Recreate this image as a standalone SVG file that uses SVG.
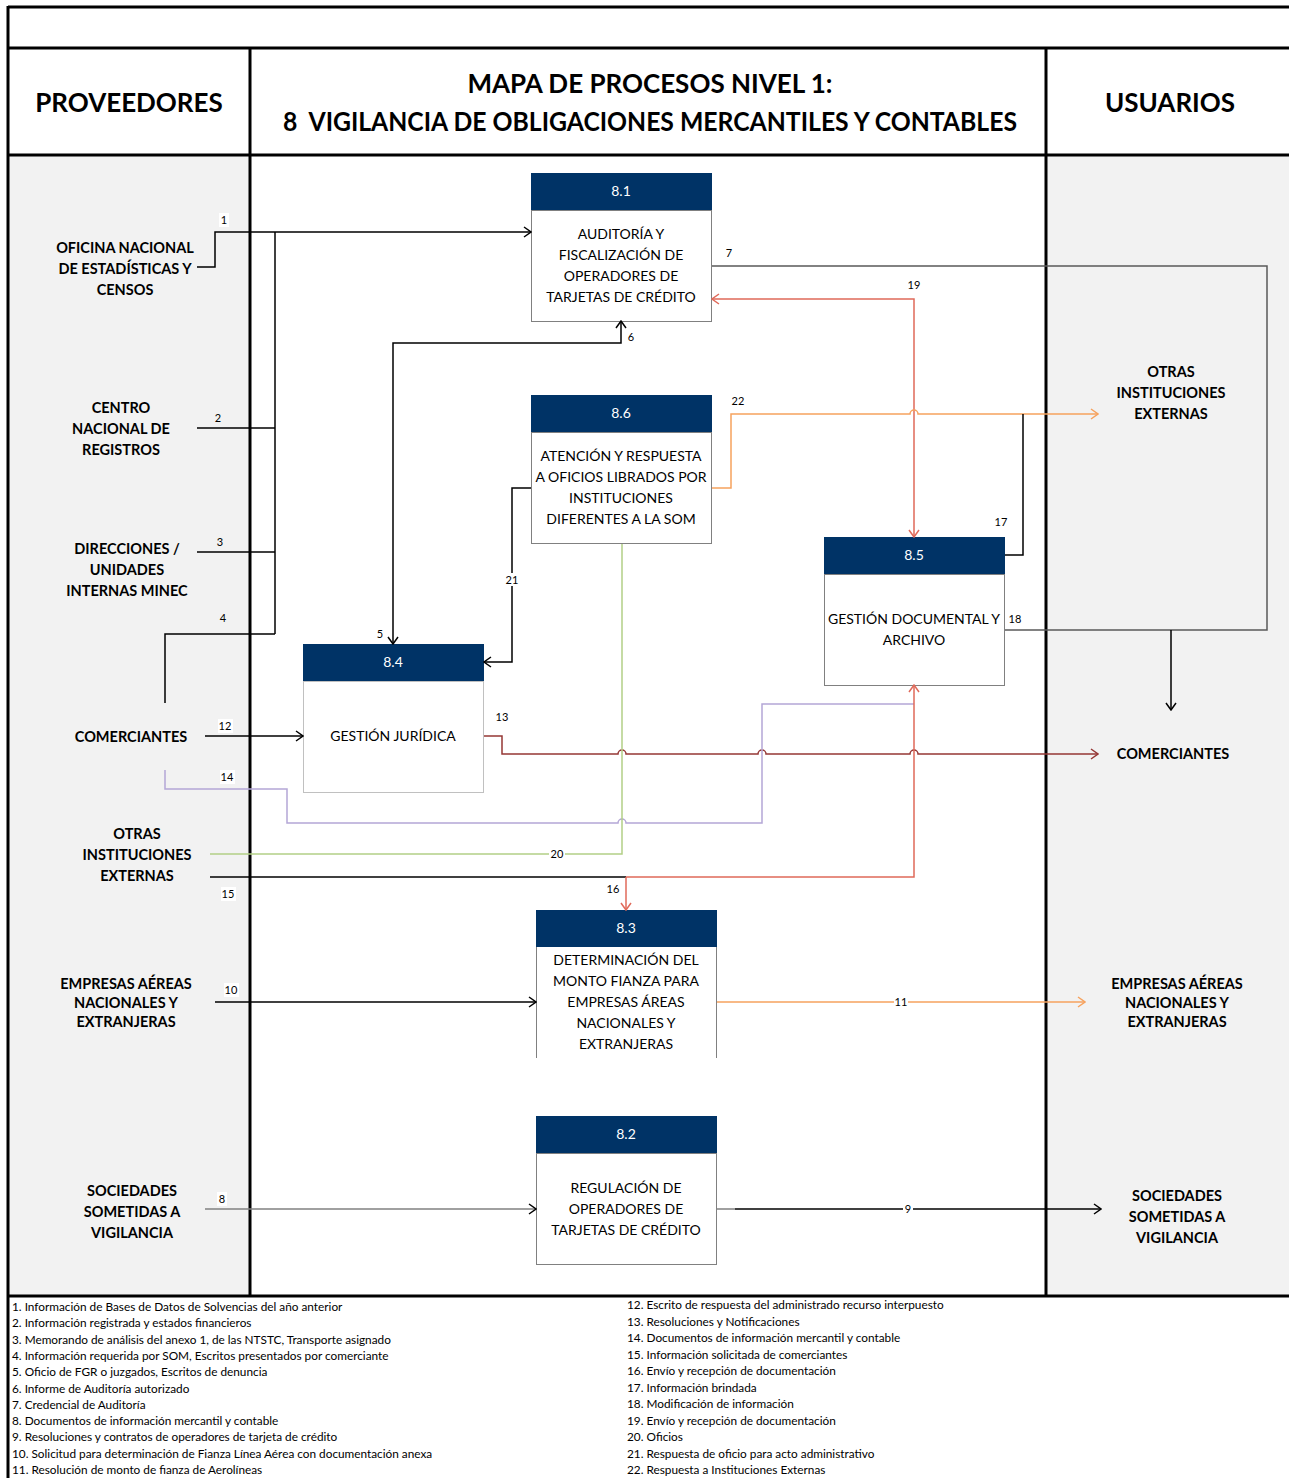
<svg xmlns="http://www.w3.org/2000/svg" width="1289" height="1478" viewBox="0 0 1289 1478">
<style>
.hdr{font-family:Lato,"Open Sans",sans-serif;font-weight:bold;font-size:26px;fill:#000;text-anchor:middle}
.lb{font-family:Lato,"Open Sans",sans-serif;font-weight:bold;font-size:14.5px;fill:#000;text-anchor:middle}
.nt{font-family:Lato,"Open Sans",sans-serif;font-size:14px;fill:#000;text-anchor:middle}
.nh{font-family:Lato,"Open Sans",sans-serif;font-size:14px;fill:#fff;text-anchor:middle}
.num{font-family:Lato,"Open Sans",sans-serif;font-size:11px;fill:#000;text-anchor:middle}
.lg{font-family:Lato,"Open Sans",sans-serif;font-size:11.8px;fill:#000}
.hb{fill:#003366}
.bd{fill:#fff;stroke:#808080;stroke-width:1}
.c{fill:none;stroke-width:1.5}
.k{stroke:#000}
.g{stroke:#595959}
.gl{stroke:#808080}
.r{stroke:#e06a5a}
.o{stroke:#f6a25e}
.dr{stroke:#953735}
.p{stroke:#b4a7d6}
.gr{stroke:#b3cf86}
.frame{stroke:#000;stroke-width:3;fill:none}
</style>
<defs>
<marker id="mk" viewBox="0 0 10 12" refX="9" refY="6" markerWidth="10" markerHeight="12" orient="auto-start-reverse" markerUnits="userSpaceOnUse"><path d="M2,1 L9,6 L2,11" fill="none" stroke="#000" stroke-width="1.5"/></marker>
<marker id="mr" viewBox="0 0 10 12" refX="9" refY="6" markerWidth="10" markerHeight="12" orient="auto-start-reverse" markerUnits="userSpaceOnUse"><path d="M2,1 L9,6 L2,11" fill="none" stroke="#e06a5a" stroke-width="1.5"/></marker>
<marker id="mo" viewBox="0 0 10 12" refX="9" refY="6" markerWidth="10" markerHeight="12" orient="auto-start-reverse" markerUnits="userSpaceOnUse"><path d="M2,1 L9,6 L2,11" fill="none" stroke="#f6a25e" stroke-width="1.5"/></marker>
<marker id="md" viewBox="0 0 10 12" refX="9" refY="6" markerWidth="10" markerHeight="12" orient="auto-start-reverse" markerUnits="userSpaceOnUse"><path d="M2,1 L9,6 L2,11" fill="none" stroke="#953735" stroke-width="1.5"/></marker>
</defs>
<rect x="0" y="0" width="1289" height="1478" fill="#fff"/>
<g id="frame">
<rect x="9" y="156" width="241" height="1140" fill="#f2f2f2"/>
<rect x="1046" y="156" width="243" height="1140" fill="#f2f2f2"/>
<line x1="8" y1="7" x2="1289" y2="7" class="frame"/>
<line x1="8" y1="48" x2="1289" y2="48" class="frame"/>
<line x1="8" y1="155" x2="1289" y2="155" class="frame"/>
<line x1="8" y1="1296" x2="1289" y2="1296" class="frame"/>
<line x1="8" y1="6" x2="8" y2="1478" class="frame"/>
<line x1="250" y1="48" x2="250" y2="1296" class="frame"/>
<line x1="1046" y1="48" x2="1046" y2="1296" class="frame"/>
<text x="129" y="112" class="hdr">PROVEEDORES</text>
<text x="650" y="93" class="hdr">MAPA DE PROCESOS NIVEL 1:</text>
<text x="650" y="131" class="hdr" xml:space="preserve" textLength="734" lengthAdjust="spacingAndGlyphs">8  VIGILANCIA DE OBLIGACIONES MERCANTILES Y CONTABLES</text>
<text x="1170" y="112" class="hdr">USUARIOS</text>
</g>
<g id="providers">
<text class="lb"><tspan x="125" y="253">OFICINA NACIONAL</tspan><tspan x="125" y="274">DE ESTADÍSTICAS Y</tspan><tspan x="125" y="295">CENSOS</tspan></text>
<text class="lb"><tspan x="121" y="413">CENTRO</tspan><tspan x="121" y="434">NACIONAL DE</tspan><tspan x="121" y="455">REGISTROS</tspan></text>
<text class="lb"><tspan x="127" y="554">DIRECCIONES /</tspan><tspan x="127" y="575">UNIDADES</tspan><tspan x="127" y="596">INTERNAS MINEC</tspan></text>
<text class="lb" x="131" y="742">COMERCIANTES</text>
<text class="lb"><tspan x="137" y="839">OTRAS</tspan><tspan x="137" y="860">INSTITUCIONES</tspan><tspan x="137" y="881">EXTERNAS</tspan></text>
<text class="lb"><tspan x="126" y="989">EMPRESAS AÉREAS</tspan><tspan x="126" y="1008">NACIONALES Y</tspan><tspan x="126" y="1027">EXTRANJERAS</tspan></text>
<text class="lb"><tspan x="132" y="1196">SOCIEDADES</tspan><tspan x="132" y="1217">SOMETIDAS A</tspan><tspan x="132" y="1238">VIGILANCIA</tspan></text>
</g>
<g id="users">
<text class="lb"><tspan x="1171" y="377">OTRAS</tspan><tspan x="1171" y="398">INSTITUCIONES</tspan><tspan x="1171" y="419">EXTERNAS</tspan></text>
<text class="lb" x="1173" y="759">COMERCIANTES</text>
<text class="lb"><tspan x="1177" y="989">EMPRESAS AÉREAS</tspan><tspan x="1177" y="1008">NACIONALES Y</tspan><tspan x="1177" y="1027">EXTRANJERAS</tspan></text>
<text class="lb"><tspan x="1177" y="1201">SOCIEDADES</tspan><tspan x="1177" y="1222">SOMETIDAS A</tspan><tspan x="1177" y="1243">VIGILANCIA</tspan></text>
</g>
<g id="n81">
<rect x="531.5" y="210.5" width="180" height="111" class="bd"/>
<rect x="531" y="173" width="181" height="37" class="hb"/>
<text x="621" y="196" class="nh">8.1</text>
<text class="nt"><tspan x="621" y="239">AUDITORÍA Y</tspan><tspan x="621" y="260">FISCALIZACIÓN DE</tspan><tspan x="621" y="281">OPERADORES DE</tspan><tspan x="621" y="302">TARJETAS DE CRÉDITO</tspan></text>
</g>
<g id="n86">
<rect x="531.5" y="432.5" width="180" height="111" class="bd"/>
<rect x="531" y="395" width="181" height="37" class="hb"/>
<text x="621" y="418" class="nh">8.6</text>
<text class="nt"><tspan x="621" y="461">ATENCIÓN Y RESPUESTA</tspan><tspan x="621" y="482">A OFICIOS LIBRADOS POR</tspan><tspan x="621" y="503">INSTITUCIONES</tspan><tspan x="621" y="524">DIFERENTES A LA SOM</tspan></text>
</g>
<g id="n85">
<rect x="824.5" y="574.5" width="180" height="111" class="bd"/>
<rect x="824" y="537" width="181" height="37" class="hb"/>
<text x="914" y="560" class="nh">8.5</text>
<text class="nt"><tspan x="914" y="624">GESTIÓN DOCUMENTAL Y</tspan><tspan x="914" y="645">ARCHIVO</tspan></text>
</g>
<g id="n84">
<rect x="303.5" y="681.5" width="180" height="111" fill="#fff" stroke="#c0c0c0" stroke-width="1"/>
<rect x="303" y="644" width="181" height="37" class="hb"/>
<text x="393" y="667" class="nh">8.4</text>
<text x="393" y="741" class="nt">GESTIÓN JURÍDICA</text>
</g>
<g id="n83">
<rect x="536" y="947" width="181" height="111" fill="#fff"/>
<path d="M536.5,947 V1058 M716.5,947 V1058" stroke="#808080" stroke-width="1" fill="none"/>
<rect x="536" y="910" width="181" height="37" class="hb"/>
<text x="626" y="933" class="nh">8.3</text>
<text class="nt"><tspan x="626" y="965">DETERMINACIÓN DEL</tspan><tspan x="626" y="986">MONTO FIANZA PARA</tspan><tspan x="626" y="1007">EMPRESAS ÁREAS</tspan><tspan x="626" y="1028">NACIONALES Y</tspan><tspan x="626" y="1049">EXTRANJERAS</tspan></text>
</g>
<g id="n82">
<rect x="536.5" y="1153.5" width="180" height="111" class="bd"/>
<rect x="536" y="1116" width="181" height="37" class="hb"/>
<text x="626" y="1139" class="nh">8.2</text>
<text class="nt"><tspan x="626" y="1193">REGULACIÓN DE</tspan><tspan x="626" y="1214">OPERADORES DE</tspan><tspan x="626" y="1235">TARJETAS DE CRÉDITO</tspan></text>
</g>
<g id="connectors">
<path d="M197,267 H215 V232 H531" class="c k" marker-end="url(#mk)"/>
<path d="M275,232 V634" class="c k"/>
<path d="M197,428 H275" class="c k"/>
<path d="M197,552 H275" class="c k"/>
<path d="M165,703 V634 H275" class="c k"/>
<path d="M393,644 V343 H621 V321" class="c k" marker-start="url(#mk)" marker-end="url(#mk)"/>
<path d="M712,266 H1267 V630 H1005" class="c g"/>
<path d="M1171,630 V710" class="c k" marker-end="url(#mk)"/>
<path d="M712,299 H914 V537" class="c r" marker-start="url(#mr)" marker-end="url(#mr)"/>
<path d="M712,488 H731 V414 H910 a4,4 0 0 1 8,0 H1098" class="c o" marker-end="url(#mo)"/>
<path d="M1005,555 H1023 V414" class="c k"/>
<path d="M531,488 H512 V662 H484" class="c k" marker-end="url(#mk)"/>
<path d="M205,736 H303" class="c k" marker-end="url(#mk)"/>
<path d="M484,736 H502 V754 H618 a4,4 0 0 1 8,0 H758 a4,4 0 0 1 8,0 H910 a4,4 0 0 1 8,0 H1098" class="c dr" marker-end="url(#md)"/>
<path d="M165,770 V789 H287 V823 H618 a4,4 0 0 1 8,0 H762 V704 H914" class="c p"/>
<path d="M622,544 V854 H210" class="c gr"/>
<path d="M210,877 H626" class="c k"/>
<path d="M626,877 H914 V685" class="c r" marker-end="url(#mr)"/>
<path d="M626,877 V910" class="c r" marker-end="url(#mr)"/>
<path d="M215,1002 H536" class="c k" marker-end="url(#mk)"/>
<path d="M717,1002 H1085" class="c o" marker-end="url(#mo)"/>
<path d="M205,1209 H536" class="c gl" marker-end="url(#mk)"/>
<path d="M717,1209 H735" class="c gl"/>
<path d="M735,1209 H1101" class="c k" marker-end="url(#mk)"/>
<g id="labels">
<rect x="219" y="213" width="10" height="14" fill="#fff"/><text x="224" y="224" class="num">1</text>
<text x="218" y="422" class="num">2</text>
<text x="220" y="546" class="num">3</text>
<text x="223" y="622" class="num">4</text>
<text x="380" y="638" class="num">5</text>
<text x="631" y="341" class="num">6</text>
<text x="729" y="257" class="num">7</text>
<rect x="217" y="1192" width="10" height="14" fill="#fff"/><text x="222" y="1203" class="num">8</text>
<rect x="903" y="1203" width="10" height="12" fill="#fff"/><text x="908" y="1213" class="num">9</text>
<rect x="224" y="983" width="15" height="14" fill="#fff"/><text x="231" y="994" class="num">10</text>
<rect x="894" y="996" width="14" height="12" fill="#fff"/><text x="901" y="1006" class="num">11</text>
<rect x="218" y="719" width="15" height="14" fill="#fff"/><text x="225" y="730" class="num">12</text>
<text x="502" y="721" class="num">13</text>
<rect x="220" y="770" width="15" height="14" fill="#fff"/><text x="227" y="781" class="num">14</text>
<rect x="221" y="887" width="15" height="14" fill="#fff"/><text x="228" y="898" class="num">15</text>
<text x="613" y="893" class="num">16</text>
<text x="1001" y="526" class="num">17</text>
<text x="1015" y="623" class="num">18</text>
<text x="914" y="289" class="num">19</text>
<rect x="549" y="848" width="16" height="12" fill="#fff"/><text x="557" y="858" class="num">20</text>
<rect x="504" y="573" width="16" height="13" fill="#fff"/><text x="512" y="584" class="num">21</text>
<text x="738" y="405" class="num">22</text>
</g>
</g>
<g id="legend">
<text class="lg"><tspan x="12" y="1311">1. Información de Bases de Datos de Solvencias del año anterior</tspan><tspan x="12" y="1327.3">2. Información registrada y estados financieros</tspan><tspan x="12" y="1343.6">3. Memorando de análisis del anexo 1, de las NTSTC, Transporte asignado</tspan><tspan x="12" y="1359.9">4. Información requerida por SOM, Escritos presentados por comerciante</tspan><tspan x="12" y="1376.2">5. Oficio de FGR o juzgados, Escritos de denuncia</tspan><tspan x="12" y="1392.5">6. Informe de Auditoría autorizado</tspan><tspan x="12" y="1408.8">7. Credencial de Auditoría</tspan><tspan x="12" y="1425.1">8. Documentos de información mercantil y contable</tspan><tspan x="12" y="1441.4">9. Resoluciones y contratos de operadores de tarjeta de crédito</tspan><tspan x="12" y="1457.7">10. Solicitud para determinación de Fianza Línea Aérea con documentación anexa</tspan><tspan x="12" y="1474">11. Resolución de monto de fianza de Aerolíneas</tspan></text>
<text class="lg"><tspan x="627" y="1309">12. Escrito de respuesta del administrado recurso interpuesto</tspan><tspan x="627" y="1325.5">13. Resoluciones y Notificaciones</tspan><tspan x="627" y="1342">14. Documentos de información mercantil y contable</tspan><tspan x="627" y="1358.5">15. Información solicitada de comerciantes</tspan><tspan x="627" y="1375">16. Envío y recepción de documentación</tspan><tspan x="627" y="1391.5">17. Información brindada</tspan><tspan x="627" y="1408">18. Modificación de información</tspan><tspan x="627" y="1424.5">19. Envío y recepción de documentación</tspan><tspan x="627" y="1441">20. Oficios</tspan><tspan x="627" y="1457.5">21. Respuesta de oficio para acto administrativo</tspan><tspan x="627" y="1474">22. Respuesta a Instituciones Externas</tspan></text>
</g>
</svg>
